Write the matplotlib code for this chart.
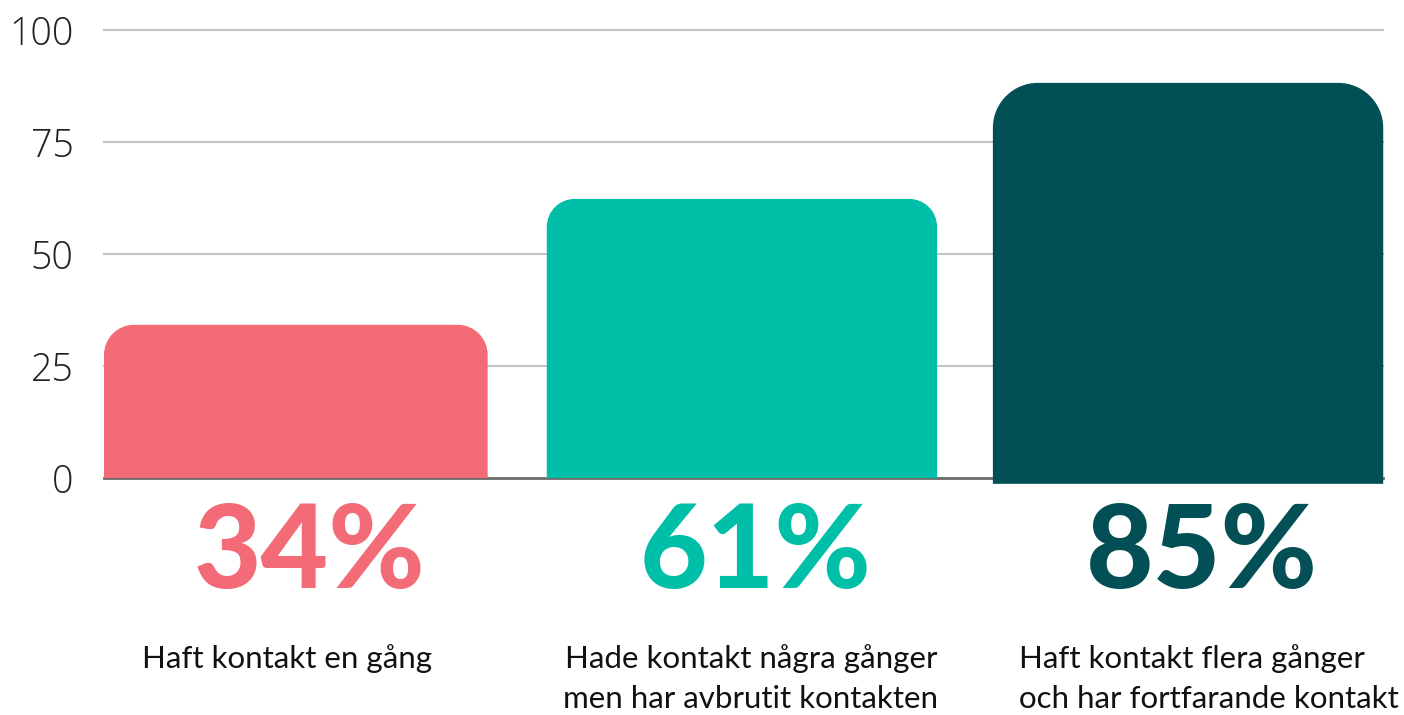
import matplotlib.pyplot as plt
from matplotlib.path import Path
from matplotlib.patches import PathPatch

# data
categories = ["Haft kontakt en gång",
              "Hade kontakt några gånger\nmen har avbrutit kontakten",
              "Haft kontakt flera gånger\noch har fortfarande kontakt"]
bar_tops = [34.2, 62.3, 88.2]
bar_bases = [0, 0, -1.3]
pct_labels = ["34%", "61%", "85%"]
yticks = [0, 25, 50, 75, 100]

colors = ["#F26B77", "#00BFA9", "#024F55"]
radii_px = [30, 28, 45]
widths = [0.86, 0.875, 0.875]

W, H = 1404, 715
fig = plt.figure(figsize=(W / 100, H / 100), dpi=100)
ax = fig.add_axes([104 / W, 1 - 478 / H, (1383 - 104) / W, (478 - 30) / H])
ax.set_xlim(-0.43, 2.437)
ax.set_ylim(0, 100)

x = list(range(len(categories)))
heights = [t - b for t, b in zip(bar_tops, bar_bases)]
bars = ax.bar(x, heights, bottom=bar_bases, width=widths, color=colors, zorder=3)

# swap rectangles for ones with rounded top corners
px_x = (1383 - 104) / 2.867
px_y = (478 - 30) / 100.0
k = 0.5523
for rect, r, c in zip(bars, radii_px, colors):
    x0, y0 = rect.get_x(), rect.get_y()
    x1, y1 = x0 + rect.get_width(), y0 + rect.get_height()
    rx, ry = r / px_x, r / px_y
    verts = [(x0, y0), (x0, y1 - ry),
             (x0, y1 - ry + k * ry), (x0 + rx - k * rx, y1), (x0 + rx, y1),
             (x1 - rx, y1),
             (x1 - rx + k * rx, y1), (x1, y1 - ry + k * ry), (x1, y1 - ry),
             (x1, y0), (x0, y0)]
    codes = [Path.MOVETO, Path.LINETO,
             Path.CURVE4, Path.CURVE4, Path.CURVE4,
             Path.LINETO,
             Path.CURVE4, Path.CURVE4, Path.CURVE4,
             Path.LINETO, Path.CLOSEPOLY]
    rect.set_visible(False)
    ax.add_patch(PathPatch(Path(verts, codes), facecolor=c, edgecolor="none",
                           zorder=3, clip_on=False))

for yv in yticks[1:]:
    ax.axhline(yv, color="#c4c4c4", lw=1.5, zorder=1, clip_on=False)
ax.axhline(0, color="#6b6b6b", lw=2, zorder=2, clip_on=False)

for s in ax.spines.values():
    s.set_visible(False)
ax.set_xticks([])
ax.set_yticks(yticks)
ax.set_yticklabels([str(v) for v in yticks], fontsize=27, color="#222222",
                   family=["Open Sans", "DejaVu Sans"], fontweight="light")
ax.tick_params(axis="y", length=0, pad=22)

# big percentage labels
for xi, lab, c in zip(x, pct_labels, colors):
    ax.text(xi + 0.03, -5.2, lab, ha="center", va="top", fontsize=84,
            fontweight="black", color=c, family=["Lato", "DejaVu Sans"],
            clip_on=False)

# category captions
cap = dict(va="top", fontsize=22.5, color="#111111",
           family=["Lato", "DejaVu Sans"], linespacing=1.52, clip_on=False)
ax.text(0 - 0.02, -37.0, categories[0], ha="center", **cap)
ax.text(1 + 0.02, -37.0, categories[1], ha="center",
        multialignment="center", **cap)
ax.text(2 - 0.38, -37.0, categories[2], ha="left",
        multialignment="left", **cap)

fig.savefig("out.png", dpi=100, facecolor="white")
